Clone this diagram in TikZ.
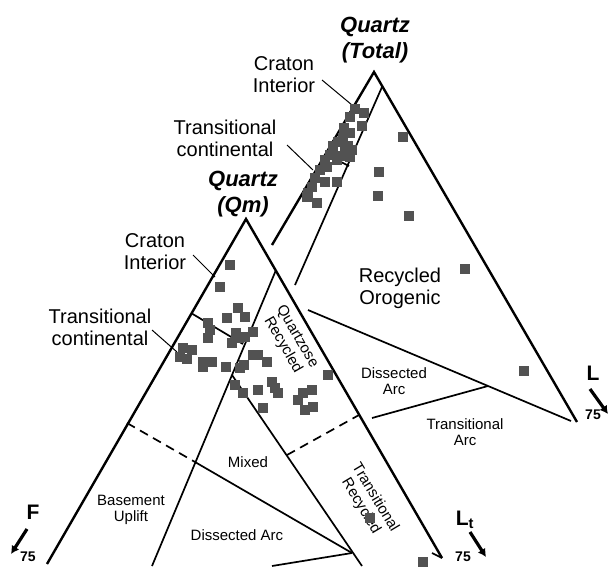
\documentclass[tikz,border=0pt]{standalone}
\usepackage{fontspec}
\setmainfont{Liberation Sans}
\usetikzlibrary{arrows.meta}

\begin{document}
\begin{tikzpicture}[x=1pt,y=-1pt,
	side/.style={line width=2.4pt},
	bound/.style={line width=1.7pt},
	leader/.style={line width=1pt},
	grain/.style={shape=rectangle,fill=black!68,minimum size=10pt,inner sep=0pt},
	apexlabel/.style={align=center,font=\fontsize{22}{26}\selectfont\bfseries\itshape},
	biglabel/.style={align=center,font=\fontsize{20}{22}\selectfont},
	smalllabel/.style={align=center,font=\fontsize{15}{16.5}\selectfont},
	pole/.style={font=\fontsize{21}{21}\selectfont\bfseries},
	cut/.style={font=\fontsize{14}{14}\selectfont\bfseries},
	pointer/.style={line width=3.2pt,-{Latex[length=8pt,width=9pt]}}]

	\useasboundingbox (0,0) rectangle (611,566);

	% QtFL corners and field boundaries
	\coordinate (Qt)  at (374,72);
	\coordinate (QtF) at (272,245);
	\coordinate (QtL) at (577,422);
	\coordinate (ci1) at (382,87);
	\coordinate (ci2) at (295,285);
	\coordinate (tc1) at (335,159);
	\coordinate (tc2) at (349,166);
	\coordinate (ro1) at (308,310);
	\coordinate (ro2) at (571,421);
	\coordinate (ta1) at (372,418);
	\coordinate (ta2) at (488,386);

	% QmFLt corners and field boundaries
	\coordinate (Qm)  at (246,219);
	\coordinate (QmF) at (47,564);
	\coordinate (QmL) at (442,558);
	\coordinate (in1) at (276,270);
	\coordinate (in2) at (152,566);
	\coordinate (cc1) at (191,313);
	\coordinate (cc2) at (243,344);
	\coordinate (bu1) at (127,423);
	\coordinate (bu2) at (195,462);
	\coordinate (bu3) at (352,553);
	\coordinate (mx1) at (232,375);
	\coordinate (mx2) at (362,566);
	\coordinate (mx3) at (287,455);
	\coordinate (mx4) at (359,415);
	\coordinate (da1) at (272,566);
	\coordinate (tk1) at (432,553);

	\draw[side] (QtF) -- (Qt) -- (QtL);
	\draw[bound] (ci1) -- (ci2);
	\draw[bound] (tc1) -- (tc2);
	\draw[bound] (ro1) -- (ro2);
	\draw[bound] (ta1) -- (ta2);

	\draw[side] (QmF) -- (Qm) -- (QmL);
	\draw[bound] (in1) -- (in2);
	\draw[bound] (cc1) -- (cc2);
	\draw[bound, dashed, dash pattern=on 9pt off 6pt] (bu1) -- (bu2);
	\draw[bound] (bu2) -- (bu3);
	\draw[bound] (mx1) -- (mx2);
	\draw[bound, dashed, dash pattern=on 9pt off 6pt] (mx3) -- (mx4);
	\draw[bound] (da1) -- (bu3);
	\draw[bound] (tk1) -- (QmL);

	% apex and pole labels
	\node[apexlabel] (qtot) at (375,40) {Quartz\\(Total)};
	\node[apexlabel] (qmono) at (243,194) {Quartz\\(Qm)};
	\node[pole] (lab-F) at (33,512) {F};
	\node[pole] (lab-L) at (593,373) {L};
	\node[pole] (lab-Lt) at (465,520) {L\textsubscript{t}};
	\node[cut] (cut-F) at (28,557) {75};
	\node[cut] (cut-L) at (593,415) {75};
	\node[cut] (cut-Lt) at (463,557) {75};

	\coordinate (aF1) at (27,529);
	\coordinate (aF2) at (11,554);
	\coordinate (aL1) at (590,389);
	\coordinate (aL2) at (608,414);
	\coordinate (aLt1) at (470,532);
	\coordinate (aLt2) at (486,557);
	\draw[pointer] (aF1) -- (aF2);
	\draw[pointer] (aL1) -- (aL2);
	\draw[pointer] (aLt1) -- (aLt2);

	% field names
	\node[biglabel] (ciT) at (284,75) {Craton\\Interior};
	\node[biglabel] (tcT) at (225,138) {Transitional\\continental};
	\node[biglabel] (ciM) at (155,252) {Craton\\Interior};
	\node[biglabel] (tcM) at (100,327) {Transitional\\continental};
	\node[biglabel] (roT) at (400,288) {Recycled\\Orogenic};
	\node[smalllabel] (daT) at (394,381) {Dissected\\Arc};
	\node[smalllabel] (taT) at (465,432) {Transitional\\Arc};
	\node[smalllabel, rotate=-60] (qrM) at (290,341) {Quartzose\\Recycled};
	\node[smalllabel, rotate=-59] (trM) at (368,502) {Transitional\\Recycled};
	\node[smalllabel] (mxM) at (248,462) {Mixed};
	\node[smalllabel] (buM) at (131,510) {Basement\\Uplift};
	\node[smalllabel] (daM) at (237,535) {Dissected Arc};

	% leaders
	\coordinate (lc1) at (322,80);   \coordinate (lc2) at (352,105);
	\coordinate (lt1) at (287,145);  \coordinate (lt2) at (313,170);
	\coordinate (lm1) at (193,255);  \coordinate (lm2) at (215,277);
	\coordinate (ln1) at (152,330);  \coordinate (ln2) at (177,352);
	\draw[leader] (lc1) -- (lc2);
	\draw[leader] (lt1) -- (lt2);
	\draw[leader] (lm1) -- (lm2);
	\draw[leader] (ln1) -- (ln2);

	% QtFL samples
	\foreach \x/\y [count=\i] in {403/137,379/172,378/196,409/216,465/269,524/371,
		355/109,364/113,350/117,362/126,344/128,350/133,343/138,338/142,348/146,
		333/146,352/150,345/152,340/156,330/155,350/157,325/160,337/160,327/167,
		320/170,315/178,325/182,337/182,312/187,308/193,307/197,317/203}
		\node[grain] (t\i) at (\x,\y) {};

	% QmFLt samples
	\foreach \x/\y [count=\i] in {230/265,220/287,238/308,245/317,227/318,208/323,
		210/330,208/338,236/333,239/338,245/337,253/332,232/343,183/348,192/350,
		180/357,187/359,203/362,212/362,203/367,226/367,240/368,244/365,253/355,
		258/355,267/362,235/385,243/393,258/390,272/382,275/388,278/393,263/408,
		298/400,303/393,312/390,305/410,313/407,328/375,370/518,423/562}
		\node[grain] (m\i) at (\x,\y) {};
\end{tikzpicture}
\end{document}
